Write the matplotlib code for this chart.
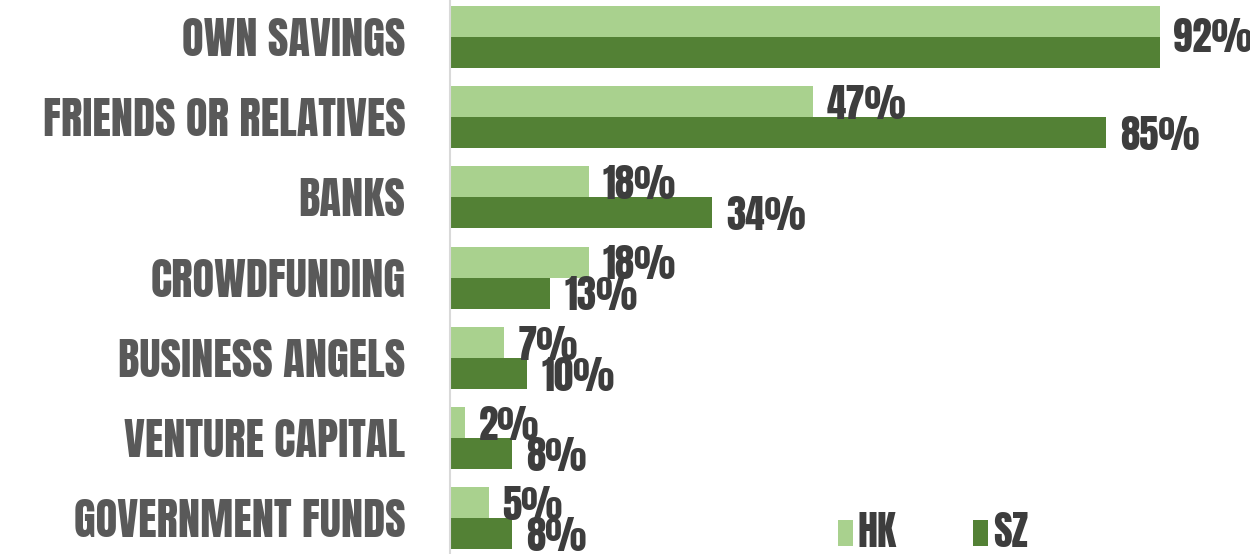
import matplotlib
matplotlib.use("Agg")
import matplotlib.pyplot as plt
import numpy as np

categories = ["OWN SAVINGS", "FRIENDS OR RELATIVES", "BANKS", "CROWDFUNDING",
              "BUSINESS ANGELS", "VENTURE CAPITAL", "GOVERNMENT FUNDS"]
hk = [92, 47, 18, 18, 7, 2, 5]
sz = [92, 85, 34, 13, 10, 8, 8]
series_names = ["HK", "SZ"]

HK_COLOR = "#a9d18e"
SZ_COLOR = "#538135"
CAT_COLOR = "#595959"
VAL_COLOR = "#3d3d3d"
FONT = ["Anton", "Oswald", "Barlow Condensed", "DejaVu Sans"]

W, H = 1250, 554
fig = plt.figure(figsize=(W / 100, H / 100), dpi=100)
ax_left = 450 / W
ax_right = (450 + 100 * 7.72) / W
ax = fig.add_axes([ax_left, 0, ax_right - ax_left, 1])

y = np.arange(len(categories))
bh = 0.387
ax.barh(y - bh / 2, hk, height=bh, color=HK_COLOR, label=series_names[0])
ax.barh(y + bh / 2, sz, height=bh, color=SZ_COLOR, label=series_names[1])

ax.set_xlim(0, 100)
ax.set_ylim((554 - 37) / 80.2, -37 / 80.2)

VAL_SIZE = 28
for i in range(len(categories)):
    if hk[i] == sz[i]:
        ax.annotate(f"{hk[i]}%", (hk[i], y[i]), xytext=(9, 0), textcoords="offset points",
                    ha="left", va="center", fontsize=VAL_SIZE,
                    color=VAL_COLOR, family=FONT)
        continue
    ax.annotate(f"{hk[i]}%", (hk[i], y[i] - bh / 2), xytext=(10, -2), textcoords="offset points",
                ha="left", va="center", fontsize=VAL_SIZE,
                color=VAL_COLOR, family=FONT)
    ax.annotate(f"{sz[i]}%", (sz[i], y[i] + bh / 2), xytext=(10, -2), textcoords="offset points",
                ha="left", va="center", fontsize=VAL_SIZE,
                color=VAL_COLOR, family=FONT)

ax.set_yticks(y)
ax.set_yticklabels(categories, fontsize=32, color=CAT_COLOR, family=FONT)
ax.tick_params(axis="y", length=0, pad=32)
ax.set_xticks([])
for s in ["top", "right", "bottom"]:
    ax.spines[s].set_visible(False)
ax.spines["left"].set_color("#d9d9d9")
ax.spines["left"].set_linewidth(1.5)

leg = ax.legend(loc="center left", bbox_to_anchor=(838 / W, 1 - 532 / H),
                bbox_transform=fig.transFigure, ncol=2, frameon=False,
                borderpad=0, borderaxespad=0, handlelength=0.36, handleheight=0.6,
                handletextpad=0.13, columnspacing=1.9,
                prop={"family": FONT, "size": 29})
for t in leg.get_texts():
    t.set_color(VAL_COLOR)

fig.savefig("out.png", dpi=100, facecolor="white")
